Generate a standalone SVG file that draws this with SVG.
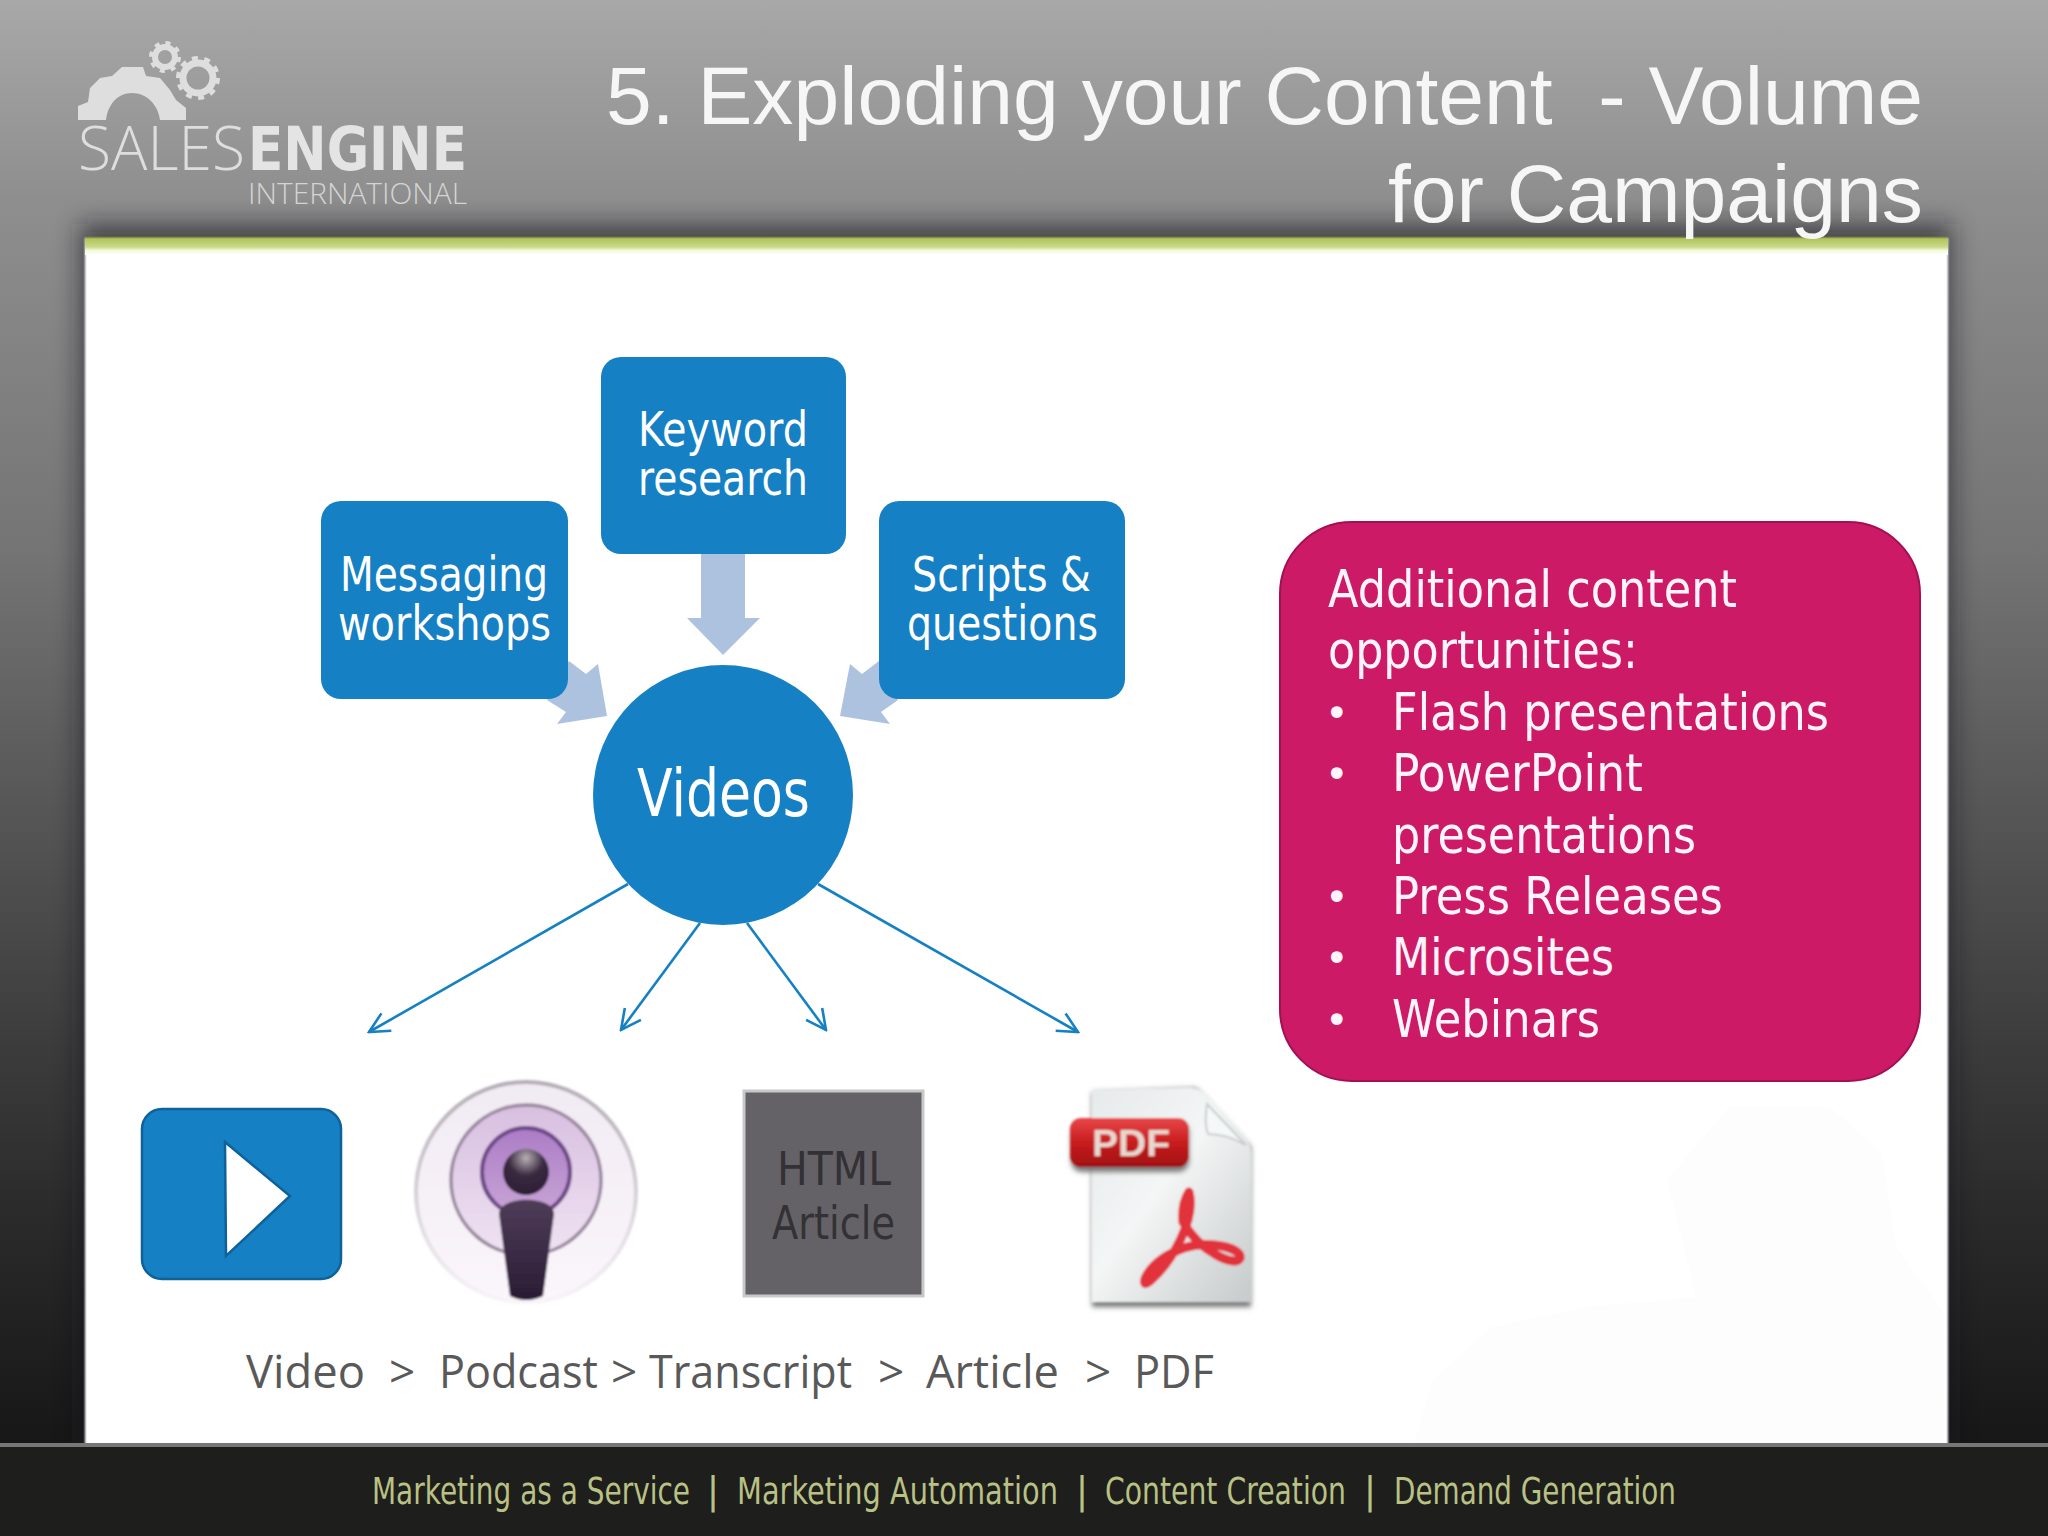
<svg xmlns="http://www.w3.org/2000/svg" width="2048" height="1536" viewBox="0 0 2048 1536">
<defs>
<linearGradient id="bg" x1="0" y1="0" x2="0" y2="1"><stop offset="0" stop-color="#a8a8a8"/><stop offset="0.13" stop-color="#8e8e8e"/><stop offset="0.36" stop-color="#747474"/><stop offset="0.47" stop-color="#606060"/><stop offset="0.68" stop-color="#3c3c3c"/><stop offset="0.78" stop-color="#2c2c2c"/><stop offset="0.93" stop-color="#181818"/><stop offset="1" stop-color="#141414"/></linearGradient>
<linearGradient id="strip" x1="0" y1="0" x2="0" y2="1"><stop offset="0" stop-color="#6f7a30"/><stop offset="0.1" stop-color="#b2c45c"/><stop offset="0.55" stop-color="#c9d988"/><stop offset="0.75" stop-color="#f4f8dc"/><stop offset="1" stop-color="#ffffff"/></linearGradient>
<linearGradient id="page" x1="0" y1="0" x2="1" y2="1"><stop offset="0" stop-color="#e6eaea"/><stop offset="0.45" stop-color="#f4f6f6"/><stop offset="1" stop-color="#c6caca"/></linearGradient>
<linearGradient id="badge" x1="0" y1="0" x2="0" y2="1"><stop offset="0" stop-color="#e8484a"/><stop offset="0.5" stop-color="#c81c1e"/><stop offset="1" stop-color="#a01012"/></linearGradient>
<linearGradient id="mic" x1="0" y1="0" x2="0" y2="1"><stop offset="0" stop-color="#4f3d58"/><stop offset="1" stop-color="#2a1c34"/></linearGradient>
<linearGradient id="ringA" x1="0" y1="0" x2="0" y2="1"><stop offset="0" stop-color="#f1eaf3"/><stop offset="1" stop-color="#fbf6fb"/></linearGradient>
<linearGradient id="ringAs" x1="0" y1="0" x2="0" y2="1"><stop offset="0" stop-color="#b4adb6"/><stop offset="0.7" stop-color="#e4dee6"/><stop offset="1" stop-color="#f8f4f8"/></linearGradient>
<linearGradient id="ringB" x1="0" y1="0" x2="0" y2="1"><stop offset="0" stop-color="#d8bfe0"/><stop offset="1" stop-color="#efe3f2"/></linearGradient>
<linearGradient id="ringC" x1="0" y1="0" x2="0" y2="1"><stop offset="0" stop-color="#ac7cc6"/><stop offset="1" stop-color="#c8a6d6"/></linearGradient>
<radialGradient id="head" cx="0.5" cy="0.2" r="0.85"><stop offset="0" stop-color="#b8b0b4"/><stop offset="0.45" stop-color="#3a2a40"/><stop offset="1" stop-color="#2a1c34"/></radialGradient>
<filter id="soft" x="-10%" y="-10%" width="120%" height="120%"><feGaussianBlur stdDeviation="12"/></filter>
<filter id="soft2" x="-10%" y="-10%" width="120%" height="120%"><feGaussianBlur stdDeviation="2.5"/></filter>
<filter id="soft1" x="-5%" y="-5%" width="110%" height="110%"><feGaussianBlur stdDeviation="1"/></filter>
<marker id="arrow" viewBox="0 0 24 24" refX="22" refY="12" markerWidth="24" markerHeight="24" markerUnits="userSpaceOnUse" orient="auto"><path d="M2,2 L22,12 L2,22" fill="none" stroke="#1580c3" stroke-width="2.6"/></marker>
</defs>
<style>
.box{fill:#1580c3}
.lbl{font-family:"DejaVu Sans","Liberation Sans",sans-serif;font-size:48px;fill:#ffffff}
.pink{font-family:"DejaVu Sans","Liberation Sans",sans-serif;font-size:52px;fill:#fff4fa}
.bul{font-family:"DejaVu Sans","Liberation Sans",sans-serif;font-size:40px;fill:#fff4fa}
.title{font-family:"Liberation Sans",Arial,sans-serif;font-size:81px;fill:#f6f6f6;white-space:pre}
.foot{font-family:"DejaVu Sans","Liberation Sans",sans-serif;font-size:37px;fill:#b9c184}
.pipe{font-family:"DejaVu Sans","Liberation Sans",sans-serif;font-size:37px;fill:#b9c184;text-anchor:middle}
.flow{font-family:"Open Sans","Noto Sans",sans-serif;font-size:46px;fill:#595959}
.logo{fill:#dedede}
.blk{fill:#adc2de}
.conn{stroke:#1580c3;stroke-width:2.6;fill:none;marker-end:url(#arrow)}
</style>

<g id="background">
<rect width="2048" height="1536" fill="url(#bg)"/>
<rect x="80" y="224" width="1872" height="1221" fill="#14141e" opacity="0.6" filter="url(#soft)"/>
<rect x="85" y="238" width="1863" height="1208" fill="#ffffff" filter="url(#soft1)"/>
<polygon points="1729,1107 1830,1107 1882,1153 1896,1247 1944,1313 1944,1443 1414,1443 1433,1380 1491,1327 1586,1307 1696,1297 1667,1180" fill="#fefdfe"/>
<rect x="85" y="237" width="1863" height="18" fill="url(#strip)"/>
<rect x="0" y="1445" width="2048" height="91" fill="#1e1e1c"/>
<rect x="0" y="1443" width="2048" height="4" fill="#777777"/>
</g>

<g id="logo">
<path class="logo" d="M78,120 L78,106 L88,102 L90,88 L100,78 L112,76 L122,67 L143,67 L146,76 L160,78 L170,90 L176,100 L186,108 L186,120 L160,120 C158,104 146,93 132,93 C118,93 108,104 106,120 Z"/>
<circle cx="165" cy="57" r="10" fill="none" stroke="#dedede" stroke-width="6"/>
<circle cx="165" cy="57" r="14" fill="none" stroke="#dedede" stroke-width="4" stroke-dasharray="5 6"/>
<circle cx="198" cy="78" r="15" fill="none" stroke="#dedede" stroke-width="7"/>
<circle cx="198" cy="78" r="20" fill="none" stroke="#dedede" stroke-width="4" stroke-dasharray="6 6.5"/>
<text x="78" y="170" font-family="'Open Sans','Noto Sans',sans-serif" font-weight="300" font-size="60" fill="#dedede" textLength="167" lengthAdjust="spacingAndGlyphs">SALES</text>
<text x="248" y="170" font-family="'DejaVu Sans',sans-serif" font-weight="700" font-size="60" fill="#e4e4e4" textLength="219" lengthAdjust="spacingAndGlyphs">ENGINE</text>
<text x="248" y="204" font-family="'Open Sans','Noto Sans',sans-serif" font-weight="300" font-size="29" fill="#d4d4d4" textLength="219" lengthAdjust="spacingAndGlyphs">INTERNATIONAL</text>
</g>

<g id="title">
<text class="title" xml:space="preserve" x="606" y="124" textLength="1317" lengthAdjust="spacingAndGlyphs">5. Exploding your Content  - Volume</text>
<text class="title" x="1388" y="222" textLength="535" lengthAdjust="spacingAndGlyphs">for Campaigns</text>
</g>

<g id="connectors">
<polygon class="blk" points="701,550 745,550 745,618 760,618 723,655 687,618 701,618"/>
<polygon class="blk" points="569,661 586,674 598,664 607,716 557,724 566,712 547,700"/>
<polygon class="blk" points="879,661 862,674 850,664 840,716 890,724 881,712 898,700"/>
<line class="conn" x1="628" y1="884" x2="369" y2="1032"/>
<line class="conn" x1="700" y1="923" x2="621" y2="1030"/>
<line class="conn" x1="747" y1="923" x2="826" y2="1030"/>
<line class="conn" x1="818" y1="884" x2="1078" y2="1032"/>
</g>

<g id="node-keyword">
<rect class="box" x="601" y="357" width="245" height="197" rx="20"/>
<text class="lbl" x="638" y="446" textLength="170" lengthAdjust="spacingAndGlyphs">Keyword</text>
<text class="lbl" x="638" y="495" textLength="170" lengthAdjust="spacingAndGlyphs">research</text>
</g>
<g id="node-messaging">
<rect class="box" x="321" y="501" width="247" height="198" rx="20"/>
<text class="lbl" x="340" y="591" textLength="208" lengthAdjust="spacingAndGlyphs">Messaging</text>
<text class="lbl" x="338" y="640" textLength="213" lengthAdjust="spacingAndGlyphs">workshops</text>
</g>
<g id="node-scripts">
<rect class="box" x="879" y="501" width="246" height="198" rx="20"/>
<text class="lbl" x="912" y="591" textLength="179" lengthAdjust="spacingAndGlyphs">Scripts &amp;</text>
<text class="lbl" x="907" y="640" textLength="191" lengthAdjust="spacingAndGlyphs">questions</text>
</g>
<g id="node-videos">
<circle class="box" cx="723" cy="795" r="130"/>
<text x="637" y="816" font-family="'DejaVu Sans',sans-serif" font-size="66" fill="#ffffff" textLength="173" lengthAdjust="spacingAndGlyphs">Videos</text>
</g>

<g id="node-additional">
<rect x="1280" y="522" width="640" height="559" rx="72" fill="#cc1a66" stroke="#a31052" stroke-width="2"/>
<text class="pink" x="1328" y="607" textLength="409" lengthAdjust="spacingAndGlyphs">Additional content</text>
<text class="pink" x="1328" y="668" textLength="310" lengthAdjust="spacingAndGlyphs">opportunities:</text>
<text class="pink" x="1392" y="730" textLength="437" lengthAdjust="spacingAndGlyphs">Flash presentations</text>
<text class="pink" x="1392" y="791" textLength="251" lengthAdjust="spacingAndGlyphs">PowerPoint</text>
<text class="pink" x="1392" y="853" textLength="304" lengthAdjust="spacingAndGlyphs">presentations</text>
<text class="pink" x="1392" y="914" textLength="331" lengthAdjust="spacingAndGlyphs">Press Releases</text>
<text class="pink" x="1392" y="975" textLength="222" lengthAdjust="spacingAndGlyphs">Microsites</text>
<text class="pink" x="1392" y="1037" textLength="208" lengthAdjust="spacingAndGlyphs">Webinars</text>
<text class="bul" x="1325" y="727">•</text>
<text class="bul" x="1325" y="788">•</text>
<text class="bul" x="1325" y="911">•</text>
<text class="bul" x="1325" y="972">•</text>
<text class="bul" x="1325" y="1034">•</text>
</g>

<g id="node-video-icon">
<rect x="142" y="1109" width="199" height="170" rx="20" fill="#1580c3" stroke="#0e6299" stroke-width="2.5"/>
<polygon points="225,1142 290,1196 226,1256" fill="#ffffff" stroke="#0e6299" stroke-width="2.5"/>
</g>

<g id="node-podcast-icon" filter="url(#soft1)">
<circle cx="526" cy="1192" r="110" fill="url(#ringA)" stroke="url(#ringAs)" stroke-width="4"/>
<circle cx="526" cy="1180" r="75" fill="url(#ringB)" stroke="#9a889f" stroke-width="3.5"/>
<circle cx="526" cy="1172" r="44" fill="url(#ringC)" stroke="#6c4686" stroke-width="4"/>
<circle cx="526" cy="1172" r="23" fill="url(#head)"/>
<path d="M499,1214 C499,1195 554,1195 554,1214 L543,1296 Q526,1304 510,1296 Z" fill="url(#mic)"/>
</g>

<g id="node-html-article">
<rect x="744" y="1091" width="179" height="205" fill="#646266" stroke="#c8c8c8" stroke-width="3"/>
<text x="777" y="1185" font-family="'DejaVu Sans',sans-serif" font-size="46" fill="#333135" textLength="114" lengthAdjust="spacingAndGlyphs">HTML</text>
<text x="772" y="1239" font-family="'DejaVu Sans',sans-serif" font-size="46" fill="#333135" textLength="123" lengthAdjust="spacingAndGlyphs">Article</text>
</g>

<g id="node-pdf-icon" filter="url(#soft1)">
<path d="M1092,1092 L1196,1088 L1251,1147 L1251,1307 L1092,1307 Z" fill="#777777" filter="url(#soft2)"/>
<path d="M1092,1090 L1190,1088 Q1198,1088 1204,1094 L1245,1138 Q1251,1146 1251,1154 L1251,1302 L1092,1302 Z" fill="url(#page)"/>
<path d="M1207,1104 Q1204,1124 1208,1134 Q1226,1134 1246,1145 Z" fill="#f4f8f8" stroke="#c9cdcd" stroke-width="2"/>
<rect x="1071" y="1122" width="118" height="50" rx="11" fill="#777777" filter="url(#soft2)"/>
<rect x="1070" y="1118" width="119" height="49" rx="11" fill="url(#badge)"/>
<text x="1092" y="1156" font-family="'Liberation Sans',sans-serif" font-weight="700" font-size="37" fill="#e8d8d0" textLength="78" lengthAdjust="spacingAndGlyphs">PDF</text>
<path d="M1189,1192 C1196,1220 1172,1262 1150,1281 C1138,1292 1144,1262 1184,1248 C1210,1240 1242,1248 1240,1258 C1236,1268 1200,1252 1183,1222 C1182,1212 1184,1200 1189,1192 Z" fill="none" stroke="#e2303a" stroke-width="9" stroke-linejoin="round"/>
</g>

<g id="flow-label">
<text class="flow" x="246" y="1388" textLength="119" lengthAdjust="spacingAndGlyphs">Video</text>
<text class="flow" x="389" y="1388">&gt;</text>
<text class="flow" x="439" y="1388" textLength="159" lengthAdjust="spacingAndGlyphs">Podcast</text>
<text class="flow" x="611" y="1388">&gt;</text>
<text class="flow" x="649" y="1388" textLength="203" lengthAdjust="spacingAndGlyphs">Transcript</text>
<text class="flow" x="878" y="1388">&gt;</text>
<text class="flow" x="926" y="1388" textLength="133" lengthAdjust="spacingAndGlyphs">Article</text>
<text class="flow" x="1085" y="1388">&gt;</text>
<text class="flow" x="1134" y="1388" textLength="80" lengthAdjust="spacingAndGlyphs">PDF</text>
</g>

<g id="footer">
<text class="foot" x="372" y="1504" textLength="318" lengthAdjust="spacingAndGlyphs">Marketing as a Service</text>
<text class="pipe" x="713" y="1504">|</text>
<text class="foot" x="737" y="1504" textLength="321" lengthAdjust="spacingAndGlyphs">Marketing Automation</text>
<text class="pipe" x="1082" y="1504">|</text>
<text class="foot" x="1105" y="1504" textLength="241" lengthAdjust="spacingAndGlyphs">Content Creation</text>
<text class="pipe" x="1370" y="1504">|</text>
<text class="foot" x="1394" y="1504" textLength="282" lengthAdjust="spacingAndGlyphs">Demand Generation</text>
</g>
</svg>
